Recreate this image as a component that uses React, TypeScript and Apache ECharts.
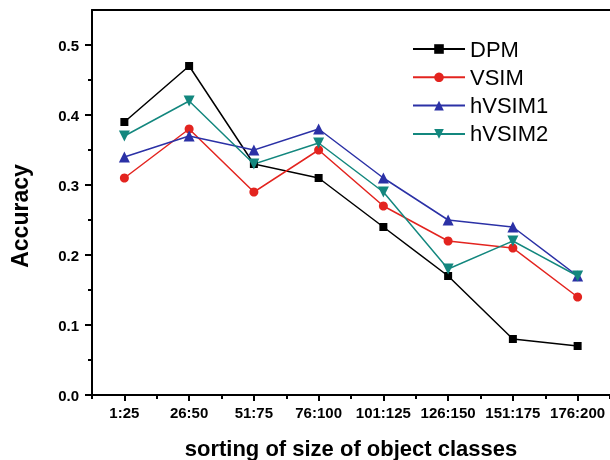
import React, { useEffect, useRef } from "react";
import * as echarts from "echarts";

const categories = ["1:25", "26:50", "51:75", "76:100", "101:125", "126:150", "151:175", "176:200"];
const dpm = [0.39, 0.47, 0.33, 0.31, 0.24, 0.17, 0.08, 0.07];
const vsim = [0.31, 0.38, 0.29, 0.35, 0.27, 0.22, 0.21, 0.14];
const hvsim1 = [0.34, 0.37, 0.35, 0.38, 0.31, 0.25, 0.24, 0.17];
const hvsim2 = [0.37, 0.42, 0.33, 0.36, 0.29, 0.18, 0.22, 0.17];
const majorTicks = [0, 0.1, 0.2, 0.3, 0.4, 0.5];
const minorTicks = [0.05, 0.15, 0.25, 0.35, 0.45];

const FONT = "'Liberation Sans', Arial, sans-serif";

export default function App() {
  const ref = useRef<HTMLDivElement>(null);
  useEffect(() => {
    if (!ref.current) return;
    const chart = echarts.init(ref.current, undefined, { renderer: "svg" });
    const mk = (name: string, data: number[], color: string, symbol: string, size: number, rotate = 0) => ({
      name,
      type: "line",
      data,
      xAxisIndex: 0,
      yAxisIndex: 0,
      symbol,
      symbolSize: size,
      symbolRotate: rotate,
      showSymbol: true,
      lineStyle: { color, width: 1.5 },
      itemStyle: { color },
    });
    const tickX = (alignWithLabel: boolean, length: number) => ({
      type: "category",
      gridIndex: 0,
      data: categories,
      position: "bottom",
      axisLine: { show: false },
      axisTick: { show: true, alignWithLabel, interval: 0, length, lineStyle: { color: "#000", width: 2 } },
      axisLabel: { show: false },
      splitLine: { show: false },
    });
    const tickY = (values: number[], length: number) => ({
      type: "value",
      gridIndex: 0,
      min: 0,
      max: 0.55,
      position: "left",
      axisLine: { show: false },
      axisTick: { show: true, length, customValues: values, lineStyle: { color: "#000", width: 2 } },
      axisLabel: { show: false },
      splitLine: { show: false },
    });
    const hidden = (gridIndex: number) => ({ type: "value", gridIndex, show: false });
    const splitTicks = (gridIndex: number, min: number, max: number, interval: number, width: number) => ({
      type: "value",
      gridIndex,
      min,
      max,
      interval,
      axisLine: { show: false },
      axisTick: { show: false },
      axisLabel: { show: false },
      splitLine: { show: true, lineStyle: { color: "#000", width } },
    });
    chart.setOption({
      animation: false,
      grid: [
        { left: 92, top: 10, width: 518, height: 385 },
        { left: 85, top: 45, width: 7, height: 350 },
        { left: 124.375, top: 395, width: 453.25, height: 6 },
        { left: 92, top: 395, width: 518, height: 4 },
      ],
      legend: {
        orient: "vertical",
        left: 407,
        top: 33,
        itemWidth: 52,
        itemHeight: 12,
        itemGap: 6.3,
        textStyle: { fontSize: 22, lineHeight: 20, color: "#000", fontFamily: FONT },
        data: ["DPM", "VSIM", "hVSIM1", "hVSIM2"],
      },
      xAxis: [
        {
          type: "category",
          gridIndex: 0,
          data: categories,
          position: "bottom",
          axisLine: { show: true, lineStyle: { color: "#000", width: 2 } },
          axisTick: { show: false },
          axisLabel: { color: "#000", fontWeight: "bold", fontSize: 15, margin: 10, fontFamily: FONT, interval: 0 },
          splitLine: { show: false },
        },
        tickX(true, 6),
        tickX(false, 4),
        {
          type: "category",
          gridIndex: 0,
          data: categories,
          position: "top",
          axisLine: { show: true, lineStyle: { color: "#000", width: 2 } },
          axisTick: { show: false },
          axisLabel: { show: false },
          splitLine: { show: false },
        },
        hidden(1),
        splitTicks(2, 0, 7, 1, 2),
        splitTicks(3, 0, 8, 1, 1.5),
      ],
      yAxis: [
        {
          type: "value",
          gridIndex: 0,
          min: 0,
          max: 0.55,
          interval: 0.1,
          position: "left",
          axisLine: { show: true, lineStyle: { color: "#000", width: 2 } },
          axisTick: { show: false },
          axisLabel: {
            customValues: majorTicks,
            color: "#000",
            fontWeight: "bold",
            fontSize: 15,
            margin: 13,
            fontFamily: FONT,
            formatter: (v: number) => v.toFixed(1),
          },
          splitLine: { show: false },
        },
        tickY(majorTicks, 7),
        tickY(minorTicks, 4),
        splitTicks(1, 0, 0.5, 0.1, 2),
        hidden(2),
        hidden(3),
      ],
      graphic: [
        {
          type: "text",
          x: 351,
          y: 448,
          style: {
            text: "sorting of size of object classes",
            font: `bold 22px ${FONT}`,
            fill: "#000",
            align: "center",
            verticalAlign: "middle",
          },
        },
        {
          type: "text",
          x: 20,
          y: 216,
          rotation: Math.PI / 2,
          style: {
            text: "Accuracy",
            font: `bold 23px ${FONT}`,
            fill: "#000",
            align: "center",
            verticalAlign: "middle",
          },
        },
      ],
      series: [
        mk("DPM", dpm, "#000000", "rect", 8),
        mk("VSIM", vsim, "#e3241f", "circle", 9),
        mk("hVSIM1", hvsim1, "#2b31a6", "triangle", 11),
        mk("hVSIM2", hvsim2, "#13877e", "triangle", 11, 180),
      ],
    });
    return () => chart.dispose();
  }, []);
  return <div ref={ref} style={{ position: "fixed", left: 0, top: 0, width: 610, height: 460 }} />;
}
